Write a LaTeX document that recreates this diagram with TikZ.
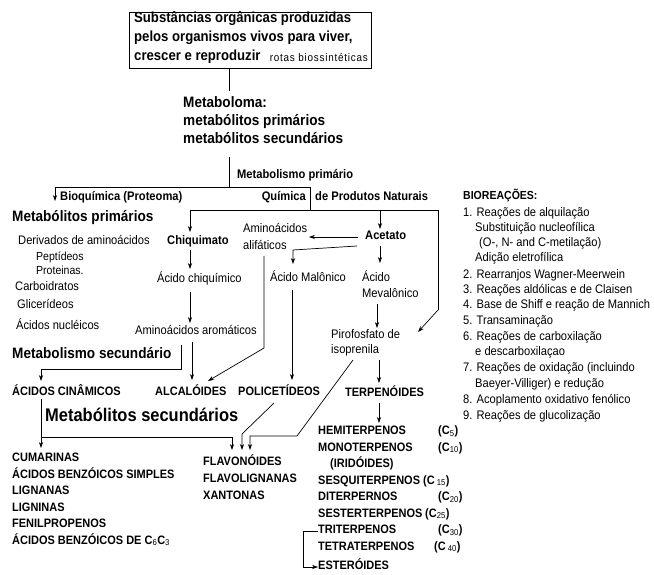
\documentclass[tikz,border=0pt]{standalone}
\usepackage{fontspec}
\setmainfont{Liberation Sans}[FakeStretch=0.9]
\newfontfamily\trackf{Liberation Sans}[FakeStretch=0.9,LetterSpace=7]
\usetikzlibrary{arrows.meta}
\begin{document}
\begin{tikzpicture}[x=1pt,y=-1pt,
 txt/.style={anchor=west,inner sep=0pt,text height=0.72em,text depth=0.2em},
 reg/.style={txt,font=\fontsize{12.4}{14}\selectfont},
 sml/.style={txt,font=\fontsize{11.7}{13}\selectfont},
 bld/.style={txt,font=\fontsize{12.4}{14}\selectfont\bfseries},
 caps/.style={txt,font=\fontsize{12.2}{14}\selectfont\bfseries},
 head/.style={txt,font=\fontsize{15.1}{17}\selectfont\bfseries},
 bighead/.style={txt,font=\fontsize{18.3}{21}\selectfont\bfseries},
 ttl/.style={txt,font=\fontsize{14.6}{17}\selectfont\bfseries},
 rot/.style={txt,anchor=east,font=\trackf\fontsize{11}{13}\selectfont},
 ln/.style={line width=0.7pt},
 arr/.style={ln,-{Stealth[length=6pt,width=4.2pt]}},
 boxst/.style={draw,line width=0.8pt,anchor=north west,minimum width=242pt,minimum height=56pt,inner sep=0pt}
]
\useasboundingbox (0,0) rectangle (654,575);
\fill[white] (0,0) rectangle (654,575);

% ---- title box
\node[boxst] (box) at (129,12) {};
\node[ttl] (t1) at (134,20) {Substâncias orgânicas produzidas};
\node[ttl] (t2) at (134,39) {pelos organismos vivos para viver,};
\node[ttl] (t3) at (134,58) {crescer e reproduzir};
\node[rot] (rotas) at (368,59) {rotas biossintéticas};

% ---- metaboloma
\node[head] (m1) at (183,105) {Metaboloma:};
\node[head] (m2) at (183,123) {metabólitos primários};
\node[head] (m3) at (183,141) {metabólitos secundários};

\node[bld] (mprim) at (237,176) {Metabolismo primário};
\node[bld] (bioq) at (60,198) {Bioquímica (Proteoma)};
\node[bld,anchor=east] (quim) at (306,198) {Química};
\node[bld] (dpn) at (315,198) {de Produtos Naturais};

% ---- left column
\node[head] (metp) at (12,219) {Metabólitos primários};
\node[reg] (deriv) at (18,242) {Derivados de aminoácidos};
\node[sml] (pept) at (36,258) {Peptídeos};
\node[sml] (prot) at (36,272) {Proteinas.};
\node[reg] (carb) at (15,288) {Carboidratos};
\node[reg] (glic) at (17,306) {Glicerídeos};
\node[reg] (acn) at (16,327) {Ácidos nucléicos};
\node[head] (mets) at (12,356) {Metabolismo secundário};

% ---- shikimate branch
\node[bld] (chiq) at (167,242) {Chiquimato};
\node[reg] (achiq) at (157,280) {Ácido chiquímico};
\node[reg] (aarom) at (135,332) {Aminoácidos aromáticos};

% ---- acetate branch
\node[reg] (aali1) at (243,230) {Aminoácidos};
\node[reg] (aali2) at (243,247) {alifáticos};
\node[bld] (acet) at (365,237) {Acetato};
\node[reg] (amal) at (270,279) {Ácido Malônico};
\node[reg] (amev1) at (362,279) {Ácido};
\node[reg] (amev2) at (362,295) {Mevalônico};
\node[reg] (piro1) at (331,336) {Pirofosfato de};
\node[reg] (piro2) at (331,351) {isoprenila};

% ---- classes
\node[caps] (acin) at (12,393) {ÁCIDOS CINÂMICOS};
\node[caps] (alca) at (155,393) {ALCALÓIDES};
\node[caps] (poli) at (238,393) {POLICETÍDEOS};
\node[caps] (terp) at (345,394) {TERPENÓIDES};
\node[bighead] (mets2) at (45,419) {Metabólitos secundários};

\node[caps] (cum) at (12,459) {CUMARINAS};
\node[caps] (abs) at (12,475.5) {ÁCIDOS BENZÓICOS SIMPLES};
\node[caps] (lgn) at (12,492) {LIGNANAS};
\node[caps] (lgi) at (12,508.5) {LIGNINAS};
\node[caps] (fen) at (12,525) {FENILPROPENOS};
\node[caps] (abc) at (12,541.5) {ÁCIDOS BENZÓICOS DE C\textsubscript{\mdseries 6}C\textsubscript{\mdseries 3}};

\node[caps] (flav) at (203,463) {FLAVONÓIDES};
\node[caps] (flig) at (203,480) {FLAVOLIGNANAS};
\node[caps] (xant) at (203,497) {XANTONAS};

\node[caps] (hemi) at (318,432) {HEMITERPENOS};
\node[caps] (mono) at (318,448.5) {MONOTERPENOS};
\node[caps] (irid) at (330,465) {(IRIDÓIDES)};
\node[caps] (sesq) at (318,481.5) {SESQUITERPENOS};
\node[caps] (dite) at (318,498) {DITERPERNOS};
\node[caps] (sest) at (318,514.5) {SESTERTERPENOS};
\node[caps] (trit) at (318,531) {TRITERPENOS};
\node[caps] (tetr) at (318,547.5) {TETRATERPENOS};
\node[caps] (este) at (318,567) {ESTERÓIDES};

\node[caps] (c5) at (438,432) {(C\textsubscript{\mdseries 5})};
\node[caps] (c10) at (438,448.5) {(C\textsubscript{\mdseries 10})};
\node[caps] (c15) at (423,481.5) {(C\,\textsubscript{\mdseries 15})};
\node[caps] (c20) at (438,498) {(C\textsubscript{\mdseries 20})};
\node[caps] (c25) at (425,514.5) {(C\textsubscript{\mdseries 25})};
\node[caps] (c30) at (438,531) {(C\textsubscript{\mdseries 30})};
\node[caps] (c40) at (434,547.5) {(C\,\textsubscript{\mdseries 40})};

% ---- bioreacoes
\node[txt,font=\fontsize{11.7}{13}\selectfont\bfseries] (bio) at (463,197) {BIOREAÇÕES:};
\node[reg] (b1) at (463,214) {1. Reações de alquilação};
\node[reg] (b1a) at (475,229) {Substituição nucleofílica};
\node[reg] (b1b) at (479,244) {(O-, N- and C-metilação)};
\node[reg] (b1c) at (475,259) {Adição eletrofílica};
\node[reg] (b2) at (463,276) {2. Rearranjos Wagner-Meerwein};
\node[reg] (b3) at (463,291) {3. Reações aldólicas e de Claisen};
\node[reg] (b4) at (463,306) {4. Base de Shiff e reação de Mannich};
\node[reg] (b5) at (463,322) {5. Transaminação};
\node[reg] (b6) at (463,338) {6. Reações de carboxilação};
\node[reg] (b6a) at (475,353) {e descarboxilaçao};
\node[reg] (b7) at (463,369) {7. Reações de oxidação (incluindo};
\node[reg] (b7a) at (475,385) {Baeyer-Villiger) e redução};
\node[reg] (b8) at (463,401) {8. Acoplamento oxidativo fenólico};
\node[reg] (b9) at (463,417) {9. Reações de glucolização};

% ---- coordinates for connectors
\coordinate (k1) at (229,91);
\coordinate (k2) at (229,157);
\coordinate (k3) at (229,187);
\coordinate (kL) at (55,187);
\coordinate (kLe) at (55,201);
\coordinate (kM) at (310,187);
\coordinate (kM2) at (310,210);
\coordinate (h1) at (190,210);
\coordinate (h1e) at (190,232);
\coordinate (h2) at (380,210);
\coordinate (h2e) at (380,229);
\coordinate (h3) at (438,210);
\coordinate (h3b) at (438,310);
\coordinate (h3e) at (418,332);
\coordinate (s1) at (190,250);
\coordinate (s1e) at (190,269);
\coordinate (s2) at (190,292);
\coordinate (s2e) at (190,323);
\coordinate (s3) at (192,342);
\coordinate (s3e) at (192,380);
\coordinate (ms1) at (181,345);
\coordinate (ms2) at (181,369);
\coordinate (ms3) at (41,369);
\coordinate (ms3e) at (41,381);
\coordinate (ac1) at (358,237);
\coordinate (ac1e) at (309,237);
\coordinate (ac2) at (357,246);
\coordinate (ac2b) at (293,250);
\coordinate (ac2e) at (293,264);
\coordinate (ac3) at (380,246);
\coordinate (ac3e) at (380,263);
\coordinate (mv1) at (377,304);
\coordinate (mv1e) at (377,328);
\coordinate (al1) at (264,256);
\coordinate (al2) at (264,348);
\coordinate (al2e) at (208,381);
\coordinate (ml1) at (292,290);
\coordinate (ml1e) at (292,380);
\coordinate (pf1) at (379,360);
\coordinate (pf1e) at (379,383);
\coordinate (tp1) at (379,403);
\coordinate (tp1e) at (379,423);
\coordinate (ip1) at (353,360);
\coordinate (ip2) at (297,436);
\coordinate (ip3) at (250,436);
\coordinate (ip3e) at (250,450);
\coordinate (pl1) at (274,403);
\coordinate (pl2) at (242,434);
\coordinate (pl2e) at (242,450);
\coordinate (cn1) at (41,399);
\coordinate (cn1e) at (41,448);
\coordinate (cn2) at (41,437);
\coordinate (cn3) at (232,437);
\coordinate (cn3e) at (232,450);
\coordinate (tr1) at (303,531);
\coordinate (tr2) at (303,567);

% ---- connectors
\draw[ln] (box.south -| k1) -- (k1);
\draw[ln] (k2) -- (k3);
\draw[ln] (kL) -- (kM) -- (kM2);
\draw[arr] (kL) -- (kLe);
\draw[ln] (h1) -- (h3) -- (h3b);
\draw[arr] (h3b) -- (h3e);
\draw[arr] (h1) -- (h1e);
\draw[arr] (h2) -- (h2e);
\draw[arr] (s1) -- (s1e);
\draw[arr] (s2) -- (s2e);
\draw[arr] (s3) -- (s3e);
\draw[arr] (ms1) -- (ms2) -- (ms3) -- (ms3e);
\draw[arr] (ac1) -- (ac1e);
\draw[arr] (ac2) -- (ac2b) -- (ac2e);
\draw[arr] (ac3) -- (ac3e);
\draw[arr] (mv1) -- (mv1e);
\draw[arr] (al1) -- (al2) -- (al2e);
\draw[arr] (ml1) -- (ml1e);
\draw[arr] (pf1) -- (pf1e);
\draw[arr] (tp1) -- (tp1e);
\draw[arr] (ip1) -- (ip2) -- (ip3) -- (ip3e);
\draw[arr] (pl1) -- (pl2) -- (pl2e);
\draw[arr] (cn1) -- (cn1e);
\draw[arr] (cn2) -- (cn3) -- (cn3e);
\draw[arr] (trit.west) -- (tr1) -- (tr2) -- (este.west);
\end{tikzpicture}
\end{document}
